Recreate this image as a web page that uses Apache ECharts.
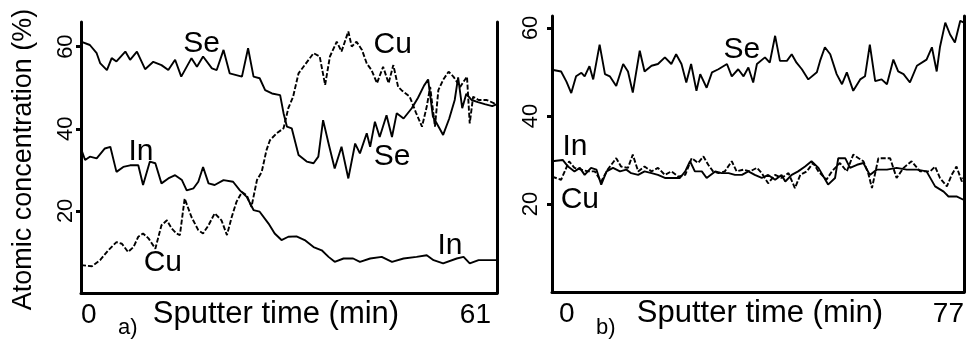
<!DOCTYPE html>
<html>
<head>
<meta charset="utf-8">
<script src="https://cdn.jsdelivr.net/npm/echarts@6/dist/echarts.min.js"></script>
<style>
  html, body { margin: 0; padding: 0; background: #fff; }
  #chart { width: 970px; height: 339px; }
</style>
</head>
<body>
<div id="chart"></div>
<script>
// panel a) sputter time (min) vs atomic concentration (%)
var seA = [[0, 61.2], [1.3, 60.4], [2.3, 58.4], [2.8, 56], [3.8, 54.3], [4.5, 57.2], [5.2, 56.4], [6.5, 58.8], [7.2, 56.8], [8.2, 58.8], [9.4, 54.5], [10.6, 56.3], [11.8, 55.5], [12.8, 54.3], [13.8, 56.8], [14.7, 52.7], [16.2, 57.2], [17.0, 55.1], [17.9, 57.6], [19.2, 54.7], [19.9, 54.3], [20.9, 59.2], [21.8, 53.5], [23.6, 52.7], [24.5, 59.6], [25.3, 52.7], [26.2, 52.3], [27.0, 49.4], [28.0, 48.6], [29.2, 48.2], [29.7, 43.8], [30.2, 40.5], [30.9, 40.1], [31.9, 33.6], [33.1, 32], [34.1, 31.6], [34.8, 33.2], [35.5, 42.1], [36.3, 36.4], [37.2, 30.3], [38.2, 35.6], [39.2, 27.9], [40.2, 36.4], [40.9, 34], [41.9, 38.9], [42.4, 35.6], [43.1, 41.7], [43.8, 38], [44.8, 43.3], [45.6, 38], [46.3, 43.8], [47.3, 42.5], [48.5, 45], [49.4, 47.5], [50.3, 50.5], [50.9, 52], [51.6, 43], [52.6, 40], [53.1, 38.5], [54.0, 42.5], [54.8, 47], [55.3, 52.5], [55.9, 45], [56.5, 48.5], [57.3, 47], [58.2, 46.5], [59.2, 46], [60.3, 45.5], [61, 46]];
var cuA = [[0, 6.8], [1.6, 6.5], [2.8, 8], [4.0, 10.4], [5.2, 12.4], [6.0, 12], [6.9, 10], [7.7, 11.2], [8.4, 13.7], [9.1, 14.5], [9.9, 13.3], [10.9, 10.8], [11.8, 16.5], [12.6, 17.7], [13.3, 15.7], [14.0, 14.5], [14.5, 14.1], [15.2, 23], [16.2, 18.5], [17.2, 15.3], [17.9, 14.5], [18.7, 16.5], [19.6, 19.4], [20.6, 17.7], [21.4, 14.1], [22.1, 18.5], [22.8, 22.2], [23.6, 24.6], [24.3, 23.8], [25.0, 21], [25.8, 27.5], [26.5, 29.5], [27.2, 34.8], [27.7, 37.2], [28.7, 38.9], [29.7, 40.1], [30.4, 45], [31.1, 47.8], [31.9, 53.5], [32.8, 55.5], [34.1, 58.4], [35.0, 57.6], [35.8, 50.7], [36.5, 57.6], [37.5, 61.2], [38.2, 58.8], [39.2, 63.7], [39.7, 60], [40.4, 61.2], [41.2, 59.2], [41.9, 55.9], [42.6, 54.3], [43.4, 51.1], [44.3, 55.1], [45.1, 51.1], [45.8, 55.5], [46.5, 50.2], [47.0, 49.4], [48.2, 47.8], [49.1, 44], [50.0, 40.5], [50.7, 45.4], [51.2, 50.2], [51.9, 40.5], [52.4, 49.4], [53.1, 51.9], [53.9, 53.9], [54.6, 52.7], [55.6, 50.2], [56.6, 52.7], [57.0, 41.3], [57.5, 47.8], [58.3, 47], [59.5, 47], [60.6, 46.2], [61, 46.5]];
var inA = [[0, 35.2], [0.6, 32.4], [1.3, 33.2], [2.3, 32.8], [3.5, 35.2], [4.3, 35.6], [5.2, 29.5], [6.2, 30.7], [7.2, 31.1], [8.4, 31.1], [9.1, 26.3], [10.1, 32], [10.9, 31.6], [11.8, 26.7], [12.8, 27.9], [13.8, 28.7], [14.8, 27.5], [15.5, 25], [16.5, 25.5], [17.2, 27.1], [17.9, 30.7], [18.7, 26.7], [19.6, 26.3], [20.9, 27.5], [22.3, 27.1], [23.3, 25], [24.3, 23.4], [25.3, 20.2], [26.2, 19.8], [27.5, 16.9], [28.4, 14.5], [29.4, 12.9], [30.4, 13.7], [31.6, 13.8], [32.8, 12.9], [34.1, 11.2], [35.3, 10.4], [36.3, 8.8], [37.2, 7.6], [38.5, 8.4], [39.9, 8.4], [40.9, 7.6], [42.4, 8.4], [44.1, 8.8], [45.6, 7.6], [47.3, 8.4], [49.2, 8.8], [50.7, 9.2], [51.7, 8], [53.1, 7.2], [55.1, 8.4], [56.1, 8.8], [57.0, 7.2], [58.3, 8], [60.5, 8], [61, 8]];

// panel b)
var seB = [[0, 50.5], [1.7, 50.1], [2.7, 47.8], [3.6, 45.2], [4.5, 49], [5.5, 49.8], [6.1, 49], [7.0, 51.3], [7.7, 48.3], [8.9, 56.2], [9.9, 49.5], [10.8, 49], [12.0, 46.8], [13.3, 51.8], [14.2, 50.1], [15.1, 45.3], [16.4, 54.8], [17.3, 50.1], [18.6, 51.4], [19.8, 51.8], [21.1, 53.3], [22.3, 51.8], [23.2, 54], [24.2, 51.8], [25.1, 47.6], [26.0, 51.8], [27.0, 45.7], [27.7, 49.5], [28.9, 46.4], [29.9, 49.9], [31.1, 50.6], [32.7, 51.8], [33.6, 49], [34.8, 50.6], [35.8, 49], [36.7, 51], [37.6, 47.6], [38.3, 51.8], [39.8, 53.3], [40.7, 52.1], [41.7, 58.2], [42.6, 52.5], [43.9, 52.5], [44.8, 54], [45.7, 52.1], [46.7, 50.6], [47.9, 48.3], [49.5, 49.9], [50.1, 52.5], [51.0, 55.6], [52.0, 54], [53.2, 49.5], [54.2, 47.2], [55.1, 49.9], [56.3, 45.7], [57.6, 48.3], [58.5, 49], [59.4, 56.2], [60.4, 47.9], [61.6, 48.3], [62.6, 47.2], [63.8, 52.8], [64.7, 50.1], [65.7, 49.5], [66.9, 47.6], [68.2, 51.4], [70.0, 52.8], [71.0, 55.6], [71.9, 50.1], [72.5, 55.6], [73.5, 61.2], [74.4, 58.5], [75.3, 56.7], [76.3, 61.6], [77, 61.2]];
var inB = [[0, 29.7], [2.0, 30], [3.0, 28.5], [4.2, 27.4], [5.2, 28.2], [6.1, 26.6], [7.3, 28.2], [8.3, 27.8], [9.2, 24.4], [10.2, 27.4], [11.4, 28.2], [12.7, 27.4], [13.9, 27.8], [14.8, 27], [16.1, 26.6], [17.3, 27.4], [18.6, 27], [19.8, 26.6], [21.1, 25.9], [22.6, 25.9], [23.9, 25.9], [24.9, 27.4], [25.8, 29.7], [26.7, 27.4], [28.0, 27.4], [28.9, 25.9], [30.5, 27.4], [31.7, 27], [33.0, 27], [34.2, 26.6], [35.5, 26.6], [36.7, 27.4], [37.9, 26.6], [39.2, 25.9], [40.4, 26.6], [41.7, 25.5], [42.9, 26.6], [43.6, 25.1], [44.8, 26.6], [46.0, 27.4], [47.3, 28.5], [48.5, 29.7], [49.8, 28.2], [51.6, 24.4], [52.9, 25.9], [53.5, 30.4], [54.8, 30.4], [55.7, 28.2], [57.0, 28.9], [58.2, 29.3], [59.4, 26.6], [60.7, 27.8], [62.6, 27.8], [64.4, 28.2], [66.3, 27.8], [68.2, 27.8], [70.0, 27.4], [71.6, 24], [73.2, 22.8], [74.1, 21.7], [75.6, 21.7], [77, 20.9]];
var cuB = [[0, 26.2], [1.7, 25.5], [3.2, 29.7], [4.2, 28.2], [5.5, 27.8], [6.7, 27.4], [8.0, 27.4], [9.2, 25.1], [10.4, 27.8], [12.0, 30.4], [12.9, 28.5], [14.2, 28.2], [15.1, 31.2], [16.1, 27.4], [17.3, 28.5], [18.6, 27.4], [19.8, 28.2], [21.1, 26.6], [22.3, 27.4], [23.6, 26.2], [24.9, 26.6], [26.1, 30.4], [27.3, 29.3], [28.3, 30.8], [29.2, 28.9], [30.1, 27.4], [31.1, 27], [32.3, 27.4], [33.6, 29.7], [34.5, 27.4], [35.8, 27.8], [37.0, 27.4], [38.3, 28.2], [39.2, 27], [40.4, 24.7], [41.7, 26.6], [42.9, 25.9], [44.2, 27], [45.4, 23.6], [46.4, 26.6], [47.6, 27.4], [48.8, 29.3], [49.8, 27.4], [51.3, 25.5], [52.3, 27.4], [53.8, 29.3], [55.1, 27.4], [56.3, 31.2], [57.3, 30.4], [58.2, 29.7], [59.1, 27], [59.8, 23.6], [60.4, 27], [61.0, 30.4], [63.2, 30.4], [64.4, 25.9], [65.7, 28.2], [67.2, 29.7], [68.8, 27.4], [70.7, 27.4], [71.6, 28.5], [72.5, 25.9], [73.8, 24], [74.7, 26.6], [75.6, 28.5], [76.6, 25.1], [77, 26.2]];

// element labels written on the curves: [text, time, conc]
var labelsA = [['Se', 17.7, 60.6], ['Cu', 45.7, 60.4], ['In', 8.8, 34.3], ['Se', 45.6, 33.1], ['Cu', 12.0, 7.3], ['In', 54.1, 11.6]];
var labelsB = [['Se', 35.5, 55], ['In', 4.3, 33], ['Cu', 5.2, 20.9]];

var yTicks = [0, 20, 40, 60];
var xTicksA = [0, 61];
var xTicksB = [0, 77];

var font = 'Liberation Sans, Arial, Helvetica, sans-serif';
var chart = echarts.init(document.getElementById('chart'));

function xAxis(idx, max, ticks, pad, namePad) {
  return {
    gridIndex: idx, type: 'value', min: 0, max: max,
    axisLine: { lineStyle: { color: '#000', width: 3 } },
    axisTick: { show: false },
    splitLine: { show: false },
    axisLabel: {
      customValues: ticks, color: '#000', fontSize: 28, fontFamily: font, margin: 8,
      alignMinLabel: 'left', alignMaxLabel: 'right', padding: pad
    },
    name: 'Sputter time (min)', nameLocation: 'middle', nameGap: 6, nameMoveOverlap: false,
    nameTextStyle: { color: '#000', fontSize: 31, fontFamily: font, verticalAlign: 'top', padding: namePad }
  }
}

function yAxis(idx, max, margin) {
  return {
    gridIndex: idx, type: 'value', min: 0, max: max,
    axisLine: { lineStyle: { color: '#000', width: 3 } },
    axisTick: { customValues: yTicks, length: 5, lineStyle: { color: '#000', width: 3 } },
    splitLine: { show: false },
    axisLabel: { customValues: yTicks, rotate: 90, color: '#000', fontSize: 22, fontFamily: font, margin: margin, showMinLabel: false }
  }
}

function border(idx, max) {
  return {
    gridIndex: idx, type: 'value', min: 0, max: max, position: 'right',
    axisLine: { show: true, lineStyle: { color: '#000', width: 3 } },
    axisTick: { show: false }, axisLabel: { show: false }, splitLine: { show: false }
  }
}

function line(name, data, xi, yi, dashed) {
  return {
    name: name, type: 'line', data: data, xAxisIndex: xi, yAxisIndex: yi,
    showSymbol: false, symbol: 'none',
    lineStyle: { color: '#000', width: 1.9, type: dashed ? [5, 2] : 'solid' }
  }
}

function tags(list, xi, yi) {
  return {
    type: 'scatter', xAxisIndex: xi, yAxisIndex: yi, symbolSize: 1,
    itemStyle: { color: 'rgba(0,0,0,0)' },
    data: list.map(function(d) { return { name: d[0], value: [d[1], d[2]] } }),
    label: {
      show: true, position: 'inside', formatter: '{b}', opacity: 1,
      color: '#000', textBorderWidth: 0, fontSize: 30, fontFamily: font
    }
  }
}

var yA = yAxis(0, 66, 4);
yA.name = 'Atomic concentration (%)';
yA.nameLocation = 'middle';
yA.nameGap = 44;
yA.nameMoveOverlap = false;
yA.nameTextStyle = { color: '#000', fontSize: 27, fontFamily: font, padding: [0, 4, 0, 0] };

var option = {
  animation: false,
  backgroundColor: '#fff',
  grid: [
    { left: 81, top: 22, width: 416, height: 271, outerBoundsMode: 'none' },
    { left: 552, top: 16, width: 412, height: 276, outerBoundsMode: 'none' }
  ],
  xAxis: [
    xAxis(0, 61, xTicksA, [0, 6, 0, 0], [0, 26, 0, 0]),
    xAxis(1, 77, xTicksB, [0, 0, 0, 7], [0, 0, 0, 4])
  ],
  yAxis: [yA, yAxis(1, 62.7, 10), border(0, 66), border(1, 62.7)],
  graphic: [
    { type: 'text', left: 118, top: 317, style: { text: 'a)', fill: '#000', font: '22px ' + font } },
    { type: 'text', left: 596, top: 317, style: { text: 'b)', fill: '#000', font: '22px ' + font } }
  ],
  series: [
    line('Se', seA, 0, 0, false),
    line('Cu', cuA, 0, 0, true),
    line('In', inA, 0, 0, false),
    line('Se', seB, 1, 1, false),
    line('In', inB, 1, 1, false),
    line('Cu', cuB, 1, 1, true),
    tags(labelsA, 0, 0),
    tags(labelsB, 1, 1)
  ]
};
chart.setOption(option);
window.addEventListener('resize', function() {
  chart.resize();
});
</script>
</body>
</html>
